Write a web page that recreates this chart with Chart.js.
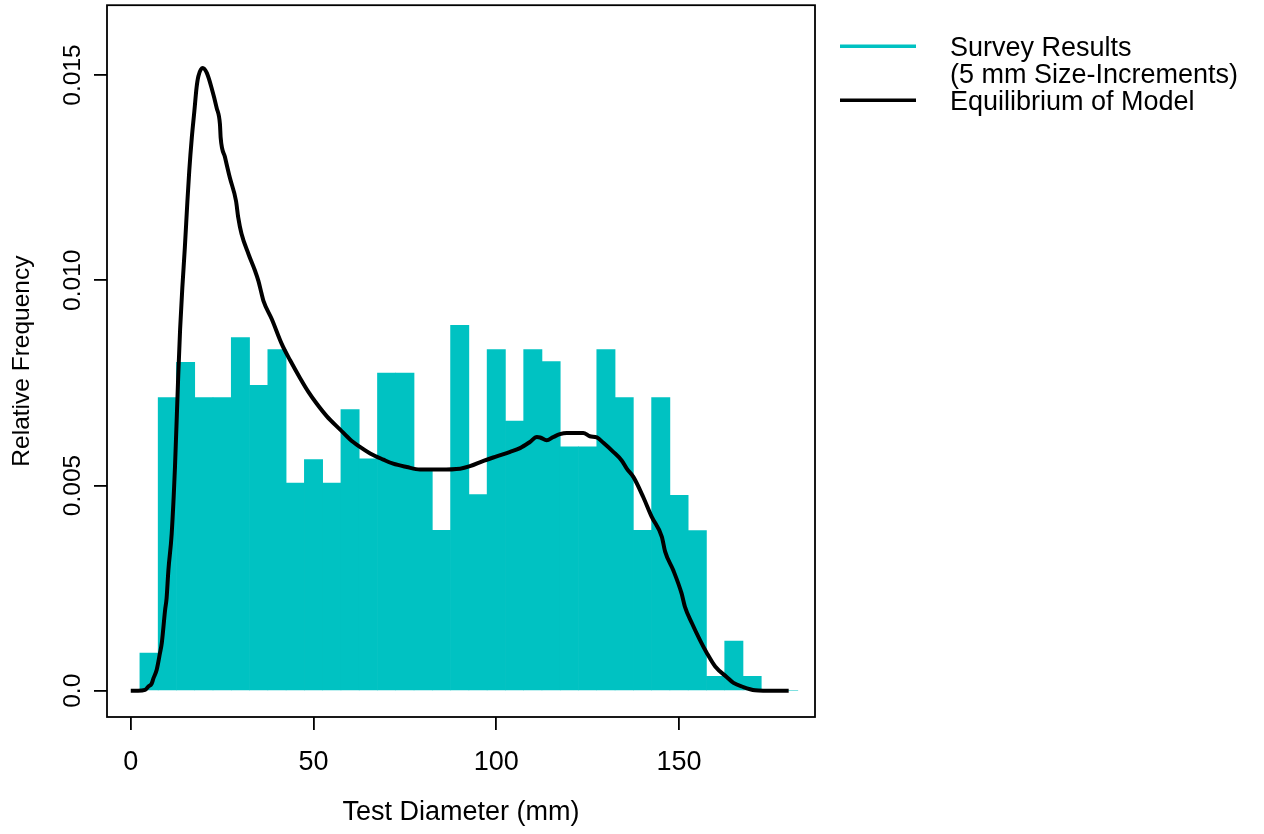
<!DOCTYPE html>
<html>
<head>
<meta charset="utf-8">
<title>Test Diameter</title>
<script src="https://cdn.jsdelivr.net/npm/chart.js@4.4.0/dist/chart.umd.min.js"></script>
<style>
  html, body { margin: 0; padding: 0; background: #fff; }
  #chart { display: block; }
</style>
</head>
<body>
<canvas id="chart" width="1264" height="834"></canvas>
<script>
'use strict'

// survey histogram, 5 mm bins (bin centres)
var sizeBins = [5, 10, 15, 20, 25, 30, 35, 40, 45, 50, 55, 60, 65, 70, 75, 80, 85, 90,
                95, 100, 105, 110, 115, 120, 125, 130, 135, 140, 145, 150, 155, 160, 165, 170, 175, 180];
var surveyFreq = [0.00092, 0.00714, 0.00800, 0.00714, 0.00714, 0.00860, 0.00744, 0.00831, 0.00506,
                  0.00563, 0.00506, 0.00685, 0.00565, 0.00774, 0.00774, 0.00539, 0.00391, 0.00890,
                  0.00478, 0.00831, 0.00657, 0.00831, 0.00802, 0.00594, 0.00594, 0.00831, 0.00714,
                  0.00391, 0.00714, 0.00476, 0.00390, 0.00035, 0.00121, 0.00035, 0, 0];

// model equilibrium curve
var modelSize = [0, 2, 3.9, 4.8, 5.7, 6.2, 7.1, 8.0, 8.5, 9.4, 9.8, 10.3, 11.2, 12.1, 13.0, 13.5, 14.1,
                 14.8, 15.5, 16.0, 16.7, 17.4, 18.0, 18.5, 19.7, 20.8, 22.1, 23.5, 24.4, 24.6, 25.8, 27.1,
                 28.8, 29.4, 30.3, 32.2, 34.0, 34.9, 35.8, 36.3, 38.6, 41.3, 43.6, 46.3, 48.6, 50.9, 53.6,
                 57.3, 60.0, 62.7, 65.5, 69.1, 71.8, 75.5, 79.1, 84.6, 90.1, 92.8, 96.5, 100.1, 103.8, 106.5,
                 109.2, 111.1, 112.0, 113.8, 115.6, 117.4, 119.3, 123.8, 125.6, 127.5, 129.3, 132.0, 134.3,
                 135.7, 137.5, 140.2, 142.5, 145.3, 146.2, 148.4, 150.7, 151.6, 153.5, 155.7, 157.6, 159.9,
                 163.1, 164.9, 167.6, 170.8, 173, 180];
var modelFreq = [0, 0, 0.00002, 0.0001, 0.00017, 0.0003, 0.00051, 0.00092, 0.00117, 0.00197, 0.00225,
                 0.00294, 0.00383, 0.00545, 0.0077, 0.0088, 0.0098, 0.0108, 0.01193, 0.01266, 0.01347,
                 0.01412, 0.01469, 0.01497, 0.01517, 0.01505, 0.01469, 0.0142, 0.0138, 0.01347, 0.01299,
                 0.0125, 0.01193, 0.01153, 0.01113, 0.01064, 0.01023, 0.00999, 0.00967, 0.0095, 0.00905,
                 0.00845, 0.00805, 0.00762, 0.00728, 0.00699, 0.00669, 0.00636, 0.00612, 0.00594, 0.00578,
                 0.00563, 0.00553, 0.00545, 0.00539, 0.00539, 0.00541, 0.00547, 0.0056, 0.00571, 0.00582,
                 0.00591, 0.00606, 0.00618, 0.00617, 0.0061, 0.00618, 0.00625, 0.00628, 0.00628, 0.0062,
                 0.00617, 0.00604, 0.00582, 0.00561, 0.00541, 0.00521, 0.00472, 0.00424, 0.00375, 0.00339,
                 0.00294, 0.00237, 0.00205, 0.00165, 0.00124, 0.00092, 0.00059, 0.00033, 0.00019, 0.00009,
                 0.00001, 0, 0];

var xTicks = [0, 50, 100, 150];
var xTickLabels = ['0', '50', '100', '150'];
var yTicks = [0, 0.005, 0.010, 0.015];
var yTickLabels = ['0.0', '0.005', '0.010', '0.015'];

var surveyColor = '#00C2C2';
var fontFamily = '"Liberation Sans", Arial, Helvetica, sans-serif';
var hFont = { family: fontFamily, size: 27 };
var vFont = { family: fontFamily, size: 24.5 };


var boxPlugin = {
    id: 'box',
    afterDraw: function (chart) {
        var a = chart.chartArea;
        var ctx = chart.ctx;
        ctx.save();
        ctx.lineWidth = 1.8;
        ctx.strokeStyle = '#000';
        ctx.strokeRect(a.left, a.top, a.right - a.left, a.bottom - a.top);
        ctx.restore();
    }
};

// R style legend sitting right of the plot box
var sideLegend = {
    id: 'sideLegend',
    afterDraw: function (chart) {
        var a = chart.chartArea;
        var ctx = chart.ctx;
        var x0 = a.right + 25, x1 = a.right + 101, tx = a.right + 135;
        var y = a.top + 43;
        var rowH = 27;
        ctx.save();
        ctx.font = hFont.size + 'px ' + fontFamily;
        ctx.textAlign = 'left';
        ctx.textBaseline = 'middle';
        chart.data.datasets.forEach(function (ds) {
            var lines = ds.label.split('\n');
            ctx.strokeStyle = ds.borderColor;
            ctx.lineWidth = 3.5;
            ctx.beginPath();
            ctx.moveTo(x0, y - 2);
            ctx.lineTo(x1, y - 2);
            ctx.stroke();
            ctx.fillStyle = '#000';
            lines.forEach(function (t) {
                ctx.fillText(t, tx, y);
                y += rowH;
            });
        });
        ctx.restore();
    }
};


var ctx = document.getElementById('chart').getContext('2d');
var myChart = new Chart(ctx, {
    type: 'bar',
    data: {
        datasets: [{
            label: 'Survey Results\n(5 mm Size-Increments)',
            data: sizeBins.map(function (s, i) { return { x: s, y: surveyFreq[i] }; }),
            backgroundColor: surveyColor,
            borderColor: surveyColor,
            borderWidth: 0,
            barPercentage: 1,
            categoryPercentage: 1,
            order: 1
        }, {
            type: 'line',
            label: 'Equilibrium of Model',
            data: modelSize.map(function (s, i) { return { x: s, y: modelFreq[i] }; }),
            borderColor: '#000',
            borderWidth: 4,
            pointRadius: 0,
            fill: false,
            cubicInterpolationMode: 'monotone',
            order: 0
        }]
    },
    options: {
        responsive: false,
        animation: false,
        layout: {
            padding: { left: 0, top: 4, right: 449, bottom: 0 }
        },
        plugins: {
            legend: { display: false },
            tooltip: { enabled: false }
        },
        scales: {
            x: {
                type: 'linear',
                min: -6.5,
                max: 187.2,
                offset: false,
                afterBuildTicks: function (scale) {
                    scale.ticks = xTicks.map(function (v) { return { value: v }; });
                },
                afterFit: function (scale) { scale.height = 117; },
                ticks: {
                    color: '#000',
                    font: hFont,
                    padding: 16,
                    maxRotation: 0,
                    autoSkip: false,
                    callback: function (v, i) { return xTickLabels[i]; }
                },
                grid: {
                    display: true,
                    offset: false,
                    drawOnChartArea: false,
                    drawTicks: true,
                    tickLength: 13,
                    lineWidth: 1.8,
                    tickWidth: 1.8,
                    tickColor: '#000'
                },
                border: { display: false },
                title: {
                    display: true,
                    text: 'Test Diameter (mm)',
                    color: '#000',
                    font: hFont,
                    padding: { top: 0, bottom: 5 }
                }
            },
            y: {
                type: 'linear',
                min: -0.00064,
                max: 0.0167,
                afterBuildTicks: function (scale) {
                    scale.ticks = yTicks.map(function (v) { return { value: v }; });
                },
                afterFit: function (scale) { scale.width = 107; },
                ticks: {
                    color: '#000',
                    font: vFont,
                    minRotation: 90,
                    maxRotation: 90,
                    crossAlign: 'center',
                    padding: -9.5,
                    autoSkip: false,
                    callback: function (v, i) { return yTickLabels[i]; }
                },
                grid: {
                    display: true,
                    drawOnChartArea: false,
                    drawTicks: true,
                    tickLength: 13,
                    lineWidth: 1.8,
                    tickWidth: 1.8,
                    tickColor: '#000'
                },
                border: { display: false },
                title: {
                    display: true,
                    text: 'Relative Frequency',
                    color: '#000',
                    font: vFont,
                    padding: { top: 7.5, bottom: 0 }
                }
            }
        }
    },
    plugins: [boxPlugin, sideLegend]
});
</script>
</body>
</html>
